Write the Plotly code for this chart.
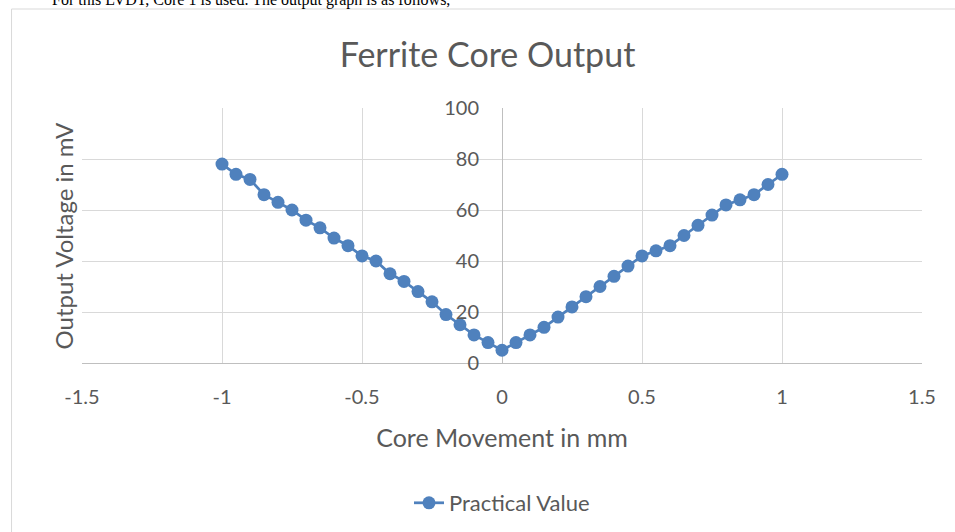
import plotly.graph_objects as go

# core movement (mm) and measured output (mV)
movement = [-1.0, -0.95, -0.9, -0.85, -0.8, -0.75, -0.7, -0.65, -0.6, -0.55, -0.5,
            -0.45, -0.4, -0.35, -0.3, -0.25, -0.2, -0.15, -0.1, -0.05, 0.0,
            0.05, 0.1, 0.15, 0.2, 0.25, 0.3, 0.35, 0.4, 0.45, 0.5,
            0.55, 0.6, 0.65, 0.7, 0.75, 0.8, 0.85, 0.9, 0.95, 1.0]
voltage = [78, 74, 72, 66, 63, 60, 56, 53, 49, 46, 42,
           40, 35, 32, 28, 24, 19, 15, 11, 8, 5,
           8, 11, 14, 18, 22, 26, 30, 34, 38, 42,
           44, 46, 50, 54, 58, 62, 64, 66, 70, 74]

x_ticks = [-1.5, -1, -0.5, 0, 0.5, 1, 1.5]
x_tick_text = ["-1.5", "-1", "-0.5", "0", "0.5", "1", "1.5"]

W, H = 955, 532
L, R, T, B = 81.5, 922, 108, 363   # plot area in pixels

def px(x):
    return (x - L) / (R - L)

def py(y):
    return (B - y) / (B - T)

font = "Lato, 'Open Sans', sans-serif"
grey = "#595959"

fig = go.Figure()
fig.add_trace(go.Scatter(
    x=movement, y=voltage, mode="lines+markers", name="Practical Value",
    line=dict(color="#4f81bd", width=2.75),
    marker=dict(color="#4f81bd", size=13),
))

fig.update_layout(
    width=W, height=H,
    margin=dict(l=L, r=W - R, t=T, b=H - B),
    paper_bgcolor="white", plot_bgcolor="white",
    font=dict(family=font, color=grey, size=20),
    title=dict(text="Ferrite Core Output", font=dict(size=34, color=grey),
               xref="container", x=487.5 / W, xanchor="center",
               yref="container", y=1 - 55 / H, yanchor="middle"),
    xaxis=dict(range=[-1.5, 1.5], tickvals=x_ticks, ticktext=x_tick_text,
               showgrid=True, gridcolor="#d9d9d9", gridwidth=1,
               zeroline=True, zerolinecolor="#bfbfbf", zerolinewidth=1,
               showline=True, linecolor="#bfbfbf", linewidth=1,
               ticks="", ticklabelstandoff=16,
               tickfont=dict(size=20, color=grey),
               title=dict(text="Core Movement in mm", font=dict(size=25, color=grey),
                          standoff=22)),
    yaxis=dict(range=[0, 100], dtick=20, anchor="free", position=0.5,
               showgrid=True, gridcolor="#d9d9d9", gridwidth=1,
               zeroline=False, showline=False, ticks="",
               ticklabelstandoff=23, tickfont=dict(size=20, color=grey)),
    showlegend=True,
    legend=dict(orientation="h", x=0.5, xanchor="center",
                xref="paper", yref="container", y=1 - 503 / H, yanchor="middle",
                font=dict(size=22, color=grey)),
)

# y axis title sits at the left edge, away from the centred axis
fig.add_annotation(text="Output Voltage in mV", textangle=-90,
                   xref="paper", yref="paper", x=px(62), y=py(236),
                   xanchor="center", yanchor="middle", showarrow=False,
                   font=dict(size=24, color=grey))

# line of document text cut off above the chart
fig.add_annotation(text="For this LVDT, Core 1 is used. The output graph is as follows,",
                   xref="paper", yref="paper", x=px(49), y=py(11),
                   xanchor="left", yanchor="bottom", showarrow=False,
                   font=dict(family="'Liberation Serif', 'Times New Roman', serif",
                             size=16, color="black"))

# chart frame
fig.add_shape(type="rect", xref="paper", yref="paper",
              x0=px(11), x1=px(980), y0=py(9), y1=py(560),
              line=dict(color="#d9d9d9", width=1), fillcolor="rgba(0,0,0,0)",
              layer="below")

fig.write_html("out.html", config={"displayModeBar": False},
               post_script="document.body.style.margin = '0';")
